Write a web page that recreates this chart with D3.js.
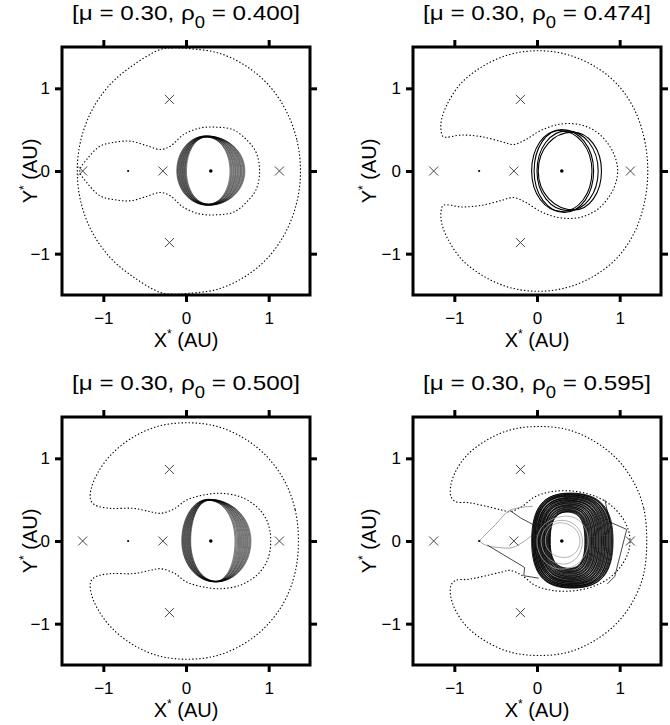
<!DOCTYPE html>
<html><head><meta charset="utf-8">
<script src="https://cdn.jsdelivr.net/npm/d3@7"></script>
<style>
body{margin:0;background:#fff;}
svg{display:block;}
text{font-family:"Liberation Sans",Arial,Helvetica,sans-serif;fill:#000;}
</style>
</head><body>
<svg id="chart" width="670" height="725"></svg>
<script>
// ---------------- data ----------------
const muLabel = "0.30";
const rho0Labels = ["0.400", "0.474", "0.500", "0.595"];
const tickValues = [-1, 0, 1];
const axisDomain = [-1.5, 1.5];
const primaries = [[0.3, 0, 1.8], [-0.7, 0, 1.1]];          // x, y, dot radius
const lagrangePoints = [[-1.25, 0], [-0.28, 0], [1.13, 0], [-0.2, 0.866], [-0.2, -0.866]];

// zero-velocity curves: upper halves (symmetric about y = 0)
const zvc1Outer = [[1.385,0],[1.34,0.38],[1.205,0.74],[0.99,1.05],[0.71,1.28],[0.385,1.43],[0.035,1.48],[-0.15,1.49],[-0.31,1.47],[-0.64,1.28],[-0.92,1.045],[-1.135,0.74],[-1.27,0.383],[-1.315,0]];
const zvc1Inner = [[0.89,0],[0.85,0.22],[0.73,0.38],[0.57,0.50],[0.37,0.53],[0.17,0.52],[-0.03,0.44],[-0.19,0.30],[-0.31,0.26],[-0.47,0.305],[-0.67,0.36],[-0.88,0.345],[-1.04,0.30],[-1.20,0.14],[-1.285,0]];
const zvc2 = [[1.34,0],[1.30,0.38],[1.18,0.74],[0.97,1.05],[0.69,1.27],[0.36,1.41],[0.02,1.455],[-0.33,1.41],[-0.65,1.27],[-0.92,1.06],[-1.09,0.80],[-1.155,0.62],[-1.161,0.496],[-1.133,0.415],[-0.911,0.435],[-0.669,0.415],[-0.427,0.355],[-0.286,0.32],[-0.145,0.375],[0.056,0.496],[0.298,0.569],[0.54,0.556],[0.742,0.456],[0.883,0.294],[0.956,0.133],[0.976,0]];
const zvc3 = [[1.36,0],[1.32,0.38],[1.19,0.73],[0.97,1.03],[0.69,1.25],[0.36,1.39],[0.02,1.43],[-0.33,1.39],[-0.65,1.25],[-0.91,1.04],[-1.07,0.82],[-1.145,0.64],[-1.155,0.50],[-1.10,0.435],[-0.919,0.395],[-0.637,0.395],[-0.435,0.355],[-0.315,0.335],[-0.153,0.383],[0.008,0.496],[0.21,0.556],[0.411,0.577],[0.653,0.536],[0.855,0.415],[0.976,0.254],[1.02,0.093],[1.024,0]];
const zvc4 = [[1.327,0],[1.29,0.40],[1.16,0.73],[0.95,1.01],[0.67,1.22],[0.36,1.35],[0.03,1.385],[-0.30,1.35],[-0.60,1.225],[-0.85,1.035],[-0.99,0.83],[-1.045,0.66],[-1.04,0.536],[-0.984,0.476],[-0.831,0.464],[-0.629,0.423],[-0.427,0.375],[-0.327,0.355],[-0.185,0.415],[-0.024,0.536],[0.177,0.597],[0.419,0.605],[0.661,0.556],[0.863,0.456],[1.024,0.294],[1.105,0.133],[1.125,0]];

// orbit loops: [left x, right x, top y, bottom y, x at top, x at bottom]
const orbit1 = [
 [-0.112,0.712,0.425,-0.415,0.24,0.27],[-0.104,0.701,0.424,-0.414,0.25,0.26],[-0.097,0.690,0.423,-0.413,0.24,0.28],
 [-0.088,0.676,0.422,-0.412,0.26,0.27],[-0.082,0.664,0.421,-0.411,0.25,0.26],[-0.073,0.655,0.420,-0.410,0.24,0.27],
 [-0.066,0.641,0.419,-0.409,0.26,0.28],[-0.058,0.629,0.418,-0.408,0.25,0.27],[-0.050,0.618,0.417,-0.407,0.24,0.26],
 [-0.043,0.604,0.416,-0.406,0.26,0.27],[-0.035,0.594,0.415,-0.405,0.25,0.28],[-0.028,0.581,0.414,-0.404,0.24,0.27],
 [-0.019,0.570,0.413,-0.403,0.26,0.26],[-0.012,0.556,0.412,-0.402,0.25,0.27],[-0.004,0.545,0.411,-0.401,0.24,0.28],
 [0.006,0.532,0.410,-0.400,0.25,0.27]
];
const orbit2 = [
 [-0.065,0.665,0.490,-0.490,0.27,0.30],[-0.035,0.685,0.500,-0.500,0.30,0.33],
 [0.000,0.740,0.485,-0.480,0.36,0.38],[0.015,0.780,0.470,-0.470,0.43,0.45]
];
const orbit3 = [
 [-0.052,0.786,0.505,-0.495,0.27,0.36],[-0.045,0.774,0.504,-0.494,0.28,0.35],[-0.038,0.762,0.503,-0.494,0.27,0.37],
 [-0.030,0.748,0.502,-0.493,0.29,0.36],[-0.023,0.737,0.501,-0.493,0.28,0.35],[-0.016,0.724,0.500,-0.492,0.27,0.36],
 [-0.008,0.712,0.500,-0.492,0.29,0.37],[-0.001,0.699,0.499,-0.491,0.28,0.36],[0.007,0.687,0.498,-0.491,0.27,0.35],
 [0.014,0.674,0.497,-0.490,0.29,0.36],[0.021,0.661,0.496,-0.490,0.28,0.37],[0.029,0.649,0.495,-0.489,0.27,0.36],
 [0.036,0.636,0.494,-0.489,0.29,0.35],[0.043,0.622,0.493,-0.488,0.28,0.36],[0.050,0.607,0.492,-0.488,0.27,0.37],
 [0.057,0.593,0.491,-0.487,0.28,0.36]
];
const orbit4 = [
 [-0.065,0.92,0.58,-0.57,0.40,0.42],[-0.055,0.91,0.575,-0.565,0.38,0.44],[-0.05,0.90,0.565,-0.56,0.42,0.40],
 [-0.04,0.885,0.56,-0.55,0.36,0.43],[-0.035,0.87,0.555,-0.545,0.41,0.41],[-0.025,0.86,0.545,-0.54,0.39,0.45],
 [-0.02,0.845,0.54,-0.53,0.37,0.42],[-0.01,0.83,0.53,-0.525,0.43,0.40],[0.0,0.82,0.52,-0.515,0.40,0.44],
 [0.005,0.805,0.515,-0.51,0.38,0.41],[0.015,0.79,0.505,-0.50,0.41,0.43],[0.02,0.78,0.495,-0.49,0.36,0.40],
 [0.03,0.765,0.49,-0.485,0.40,0.42],[0.04,0.75,0.48,-0.475,0.42,0.39],[0.05,0.74,0.47,-0.465,0.38,0.43],
 [0.055,0.725,0.46,-0.455,0.40,0.41],[0.065,0.71,0.45,-0.445,0.37,0.40],[0.075,0.70,0.44,-0.435,0.41,0.42],
 [0.085,0.685,0.43,-0.425,0.39,0.39],[0.09,0.67,0.42,-0.415,0.36,0.41],[0.10,0.66,0.41,-0.40,0.40,0.40],
 [0.11,0.645,0.40,-0.39,0.38,0.42],[0.12,0.63,0.39,-0.38,0.41,0.39],[0.13,0.62,0.38,-0.37,0.37,0.41],
 [0.14,0.605,0.37,-0.36,0.39,0.40],[0.15,0.595,0.36,-0.345,0.40,0.38],[0.155,0.585,0.355,-0.335,0.38,0.40],
 [0.16,0.58,0.35,-0.33,0.36,0.39]
];
const orbit4Inner = [[0.05,0.55,0.25,-0.28,0.30,0.32],[0.10,0.52,0.22,-0.20,0.28,0.33],[0.00,0.62,0.30,-0.34,0.36,0.30]];
const stray4Light = [[-0.05,0.42],[-0.33,0.37],[-0.5,0.2],[-0.64,0.06],[-0.69,0.0],[-0.62,-0.05],[-0.45,-0.08],[-0.3,-0.08],[-0.15,0.0],[0.0,0.12]];
const stray4Dark = [
 [[-0.33,0.37],[-0.2,0.28],[-0.05,0.2]],
 [[-0.6,-0.05],[-0.35,-0.2],[-0.15,-0.32],[-0.16,-0.42],[0.02,-0.45]],
 [[0.82,0.5],[0.88,0.23],[1.085,0.14],[0.94,-0.43],[0.85,-0.52]]
];

// ---------------- layout ----------------
const S = 248;
const panelPos = [[62, 47], [413, 47], [62, 417], [413, 417]];
const yLabelOffset = [-25, -37, -25, -37];
const panels = [
  {rho: rho0Labels[0], curves: [zvc1Outer, zvc1Inner], loops: orbit1, st: {w: 0.55, o: 0.8, k: 0.56, fill: "#8a8a8a", fo: 0.45}},
  {rho: rho0Labels[1], curves: [zvc2], loops: orbit2, st: {w: 1.1, o: 1, k: 0.56}},
  {rho: rho0Labels[2], curves: [zvc3], loops: orbit3, st: {w: 0.55, o: 0.8, k: 0.56, fill: "#8a8a8a", fo: 0.45}},
  {rho: rho0Labels[3], curves: [zvc4], loops: orbit4, st: {w: 1.0, o: 0.8, k: 0.7, fill: "#222", fo: 0.55}, extra: true}
];

const svg = d3.select("#chart");
const mirror = u => u.concat(u.slice(1, -1).reverse().map(([a, b]) => [a, -b]));

function loopPath(x, y, d, k) {
  const [L, R, T, B, xt, xb] = d;
  const lx = x(L), rx = x(R), y0 = y(0), tX = x(xt), tY = y(T), bX = x(xb), bY = y(B);
  const p = d3.path();
  p.moveTo(lx, y0);
  p.bezierCurveTo(lx, y0 + k * (tY - y0), tX - k * (tX - lx), tY, tX, tY);
  p.bezierCurveTo(tX + k * (rx - tX), tY, rx, y0 + k * (tY - y0), rx, y0);
  p.bezierCurveTo(rx, y0 + k * (bY - y0), bX + k * (rx - bX), bY, bX, bY);
  p.bezierCurveTo(bX - k * (bX - lx), bY, lx, y0 + k * (bY - y0), lx, y0);
  p.closePath();
  return p.toString();
}

panels.forEach((P, i) => {
  const [left, top] = panelPos[i];
  const g = svg.append("g").attr("transform", `translate(${left},${top})`);
  const x = d3.scaleLinear().domain(axisDomain).range([0, S]);
  const y = d3.scaleLinear().domain(axisDomain).range([S, 0]);

  g.append("clipPath").attr("id", "clip" + i).append("rect").attr("width", S).attr("height", S);
  const plot = g.append("g").attr("clip-path", `url(#clip${i})`);

  // zero-velocity curves
  const line = d3.line().x(d => x(d[0])).y(d => y(d[1])).curve(d3.curveCatmullRomClosed.alpha(0.5));
  plot.selectAll("path.zvc").data(P.curves).join("path").attr("class", "zvc")
    .attr("d", c => line(mirror(c))).attr("fill", "none").attr("stroke", "#000")
    .attr("stroke-width", 1.1).attr("stroke-dasharray", "1.4,2.1");

  // extra faint orbit parts (panel 4)
  if (P.extra) {
    const open = d3.line().x(d => x(d[0])).y(d => y(d[1])).curve(d3.curveCatmullRom.alpha(0.5));
    plot.append("path").attr("d", open(stray4Light)).attr("fill", "none").attr("stroke", "#9a9a9a").attr("stroke-width", 0.9);
    const lin = d3.line().x(d => x(d[0])).y(d => y(d[1]));
    plot.selectAll("path.stray").data(stray4Dark).join("path").attr("class", "stray")
      .attr("d", lin).attr("fill", "none").attr("stroke", "#333").attr("stroke-width", 0.9);
  }

  // band shading between outermost and innermost loop
  if (P.st.fill) {
    const outer = P.loops[0], inner = P.loops[P.loops.length - 1];
    plot.append("path").attr("d", loopPath(x, y, outer, P.st.k) + loopPath(x, y, inner, P.st.k))
      .attr("fill-rule", "evenodd").attr("fill", P.st.fill).attr("fill-opacity", P.st.fo);
  }

  // orbit loops
  plot.selectAll("path.loop").data(P.loops).join("path").attr("class", "loop")
    .attr("d", d => loopPath(x, y, d, P.st.k)).attr("fill", "none")
    .attr("stroke", "#000").attr("stroke-width", P.st.w).attr("stroke-opacity", P.st.o);

  if (P.extra) {
    plot.selectAll("path.inner").data(orbit4Inner).join("path").attr("class", "inner")
      .attr("d", d => loopPath(x, y, d, 0.56)).attr("fill", "none").attr("stroke", "#a0a0a0").attr("stroke-width", 0.8);
  }

  // Lagrange points
  const xs = 4.5;
  plot.selectAll("path.lp").data(lagrangePoints).join("path").attr("class", "lp")
    .attr("d", d => `M${x(d[0]) - xs},${y(d[1]) - xs}L${x(d[0]) + xs},${y(d[1]) + xs}M${x(d[0]) - xs},${y(d[1]) + xs}L${x(d[0]) + xs},${y(d[1]) - xs}`)
    .attr("stroke", "#444").attr("stroke-width", 1);

  // primaries
  plot.selectAll("circle.pr").data(primaries).join("circle").attr("class", "pr")
    .attr("cx", d => x(d[0])).attr("cy", d => y(d[1])).attr("r", d => d[2]).attr("fill", "#000");

  // axes
  const fmt = d3.format("d");
  const styleAxis = sel => {
    sel.select(".domain").remove();
    sel.selectAll(".tick line").attr("stroke", "#000").attr("stroke-width", 3);
    sel.selectAll(".tick text").attr("font-size", 17).attr("fill", "#000")
      .attr("font-family", '"Liberation Sans",Arial,Helvetica,sans-serif');
  };
  g.append("g").attr("transform", `translate(0,${S})`)
    .call(d3.axisBottom(x).tickValues(tickValues).tickSize(7).tickPadding(10).tickFormat(fmt)).call(styleAxis);
  g.append("g").call(d3.axisTop(x).tickValues(tickValues).tickSize(7).tickFormat("")).call(styleAxis);
  g.append("g").call(d3.axisLeft(y).tickValues(tickValues).tickSize(7).tickPadding(5).tickFormat(fmt)).call(styleAxis);
  g.append("g").attr("transform", `translate(${S},0)`)
    .call(d3.axisRight(y).tickValues(tickValues).tickSize(7).tickFormat("")).call(styleAxis);

  // frame
  g.append("rect").attr("width", S).attr("height", S).attr("fill", "none")
    .attr("stroke", "#000").attr("stroke-width", 3);

  // title
  const t = g.append("text").attr("x", S / 2 - 114).attr("y", -27).attr("font-size", 21)
    .attr("textLength", 228).attr("lengthAdjust", "spacingAndGlyphs");
  t.append("tspan").text(`[\u03bc = ${muLabel}, \u03c1`);
  t.append("tspan").attr("dy", 8).attr("font-size", 16).text("0");
  t.append("tspan").attr("dy", -8).text(` = ${P.rho}]`);

  // x label
  const xl = g.append("text").attr("x", S / 2).attr("y", S + 52).attr("text-anchor", "middle").attr("font-size", 20);
  xl.append("tspan").text("X");
  xl.append("tspan").attr("dy", -9).attr("font-size", 12).text("*");
  xl.append("tspan").attr("dy", 9).text(" (AU)");

  // y label
  const yl = g.append("text").attr("transform", `translate(${yLabelOffset[i]},${S / 2}) rotate(-90)`)
    .attr("text-anchor", "middle").attr("font-size", 20);
  yl.append("tspan").text("Y");
  yl.append("tspan").attr("dy", -9).attr("font-size", 12).text("*");
  yl.append("tspan").attr("dy", 9).text(" (AU)");
});
</script>
</body></html>
